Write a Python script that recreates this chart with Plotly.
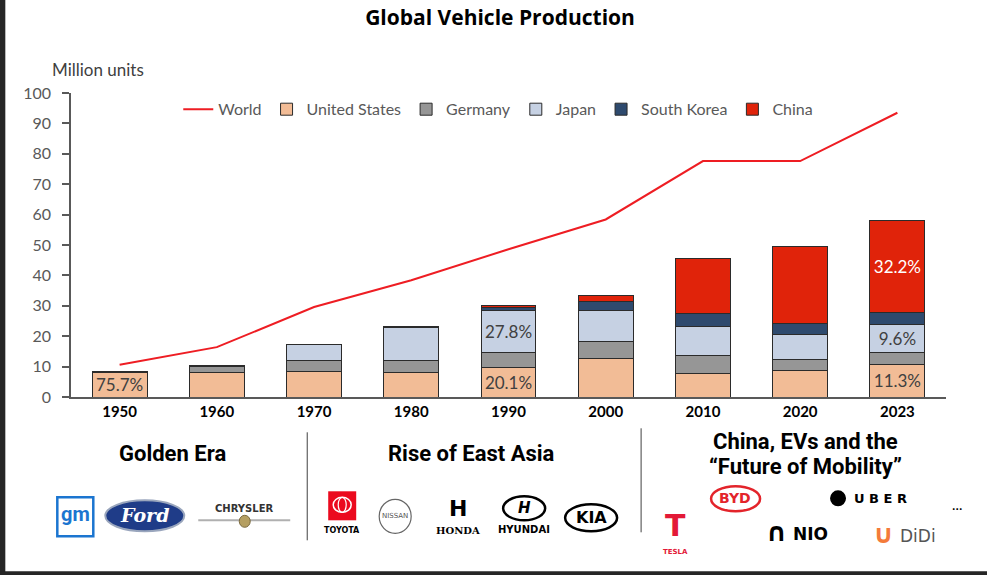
import plotly.graph_objects as go

# data (million units)
years = ['1950', '1960', '1970', '1980', '1990', '2000', '2010', '2020', '2023']
world = [10.6, 16.4, 29.6, 38.4, 48.6, 58.4, 77.6, 77.6, 93.5]
united_states = [8.0, 7.9, 8.3, 8.0, 9.8, 12.8, 7.7, 8.8, 10.6]
germany = [0.3, 2.0, 3.8, 3.9, 5.0, 5.5, 5.9, 3.7, 4.1]
japan = [0.03, 0.5, 5.3, 11.0, 13.5, 10.1, 9.6, 8.1, 9.0]
south_korea = [0.0, 0.0, 0.03, 0.1, 1.3, 3.1, 4.2, 3.5, 4.2]
china = [0.0, 0.0, 0.0, 0.2, 0.5, 2.0, 18.3, 25.5, 30.1]

us_labels = ['75.7%', '', '', '', '20.1%', '', '', '', '11.3%']
japan_labels = ['', '', '', '', '27.8%', '', '', '', '9.6%']
china_labels = ['', '', '', '', '', '', '', '', '32.2%']

# plot area in pixels
W, H = 987, 575
PL, PR, PT, PB = 70.7, 946, 92.7, 396.7


def fx(px):
    return (px - PL) / (PR - PL)


def fy(py):
    return (PB - py) / (PB - PT)


FONT = 'Lato'
GREY = '#595959'
OUTLINE = dict(color='#2b2b2b', width=1)

fig = go.Figure()

fig.add_trace(go.Scatter(
    x=years, y=world, name='World', mode='lines',
    line=dict(color='#EE1D23', width=2),
))

series = [
    ('United States', united_states, '#F2BC96', us_labels, '#404040'),
    ('Germany', germany, '#969696', None, '#404040'),
    ('Japan', japan, '#C6D1E3', japan_labels, '#404040'),
    ('South Korea', south_korea, '#2E4A6E', None, '#404040'),
    ('China', china, '#E0230A', china_labels, 'white'),
]
for name, vals, color, labels, tcolor in series:
    fig.add_trace(go.Bar(
        x=years, y=vals, name=name,
        marker=dict(color=color, line=OUTLINE),
        width=0.565,
        text=labels, textposition='inside' if labels else 'none',
        insidetextanchor='middle', textangle=0,
        constraintext='none',
        textfont=dict(family=FONT, size=17, color=tcolor),
    ))

shapes = []
annotations = []

# frame edges
shapes.append(dict(type='rect', xref='paper', yref='paper',
                   x0=fx(-5), x1=fx(5), y0=fy(-5), y1=fy(580),
                   fillcolor='#262626', line=dict(width=0)))
shapes.append(dict(type='rect', xref='paper', yref='paper',
                   x0=fx(-5), x1=fx(992), y0=fy(571), y1=fy(580),
                   fillcolor='#262626', line=dict(width=0)))

# section dividers
for x, y0, y1 in [(307, 432, 540), (641, 428, 532)]:
    shapes.append(dict(type='line', xref='paper', yref='paper',
                       x0=fx(x), x1=fx(x), y0=fy(y0), y1=fy(y1),
                       line=dict(color='#404040', width=1)))


def note(text, x, y, size=12, color='black', family='Roboto', **kw):
    annotations.append(dict(text=text, x=fx(x), y=fy(y), xref='paper', yref='paper',
                            showarrow=False, xanchor=kw.pop('xanchor', 'center'),
                            yanchor='middle',
                            font=dict(family=family, size=size, color=color), **kw))


def oval(x0, y0, x1, y1, line_color, fill='rgba(0,0,0,0)', lw=2):
    shapes.append(dict(type='circle', xref='paper', yref='paper',
                       x0=fx(x0), x1=fx(x1), y0=fy(y1), y1=fy(y0),
                       fillcolor=fill, line=dict(color=line_color, width=lw)))


def box(x0, y0, x1, y1, line_color, fill='rgba(0,0,0,0)', lw=2):
    shapes.append(dict(type='rect', xref='paper', yref='paper',
                       x0=fx(x0), x1=fx(x1), y0=fy(y1), y1=fy(y0),
                       fillcolor=fill, line=dict(color=line_color, width=lw)))


# section titles
note('<b>Golden Era</b>', 172, 453, size=22)
note('<b>Rise of East Asia</b>', 471, 453, size=22)
note('<b>China, EVs and the</b>', 805, 441, size=22)
note('<b>\u201cFuture of Mobility\u201d</b>', 805, 466, size=22)

# Golden Era brands
box(57, 497, 93, 536, '#1B75D0', lw=2.5)
note('<b>gm</b>', 75, 514, size=20, color='#1B75D0')
oval(105, 500, 184, 531, '#9aa6bd', fill='#1F3C88', lw=2)
note('<b><i>Ford</i></b>', 144, 515, size=19, color='white', family='DejaVu Serif')
note('<b>CHRYSLER</b>', 244, 508, size=10, color='#333333', family='DejaVu Sans')
shapes.append(dict(type='line', xref='paper', yref='paper',
                   x0=fx(198), x1=fx(290), y0=fy(520), y1=fy(520),
                   line=dict(color='#b0b0b0', width=2)))
oval(239, 515, 250, 527, '#7a6a40', fill='#b59f62', lw=1)

# Rise of East Asia brands
box(328, 491, 356, 520, '#EB0A1E', fill='#EB0A1E', lw=0)
oval(333, 497, 351, 512, 'white', lw=1.5)
oval(338, 497, 346, 512, 'white', lw=1.2)
note('<b>TOYOTA</b>', 342, 530, size=8, family='DejaVu Sans')
oval(379, 499, 411, 533, '#666666', lw=1.2)
note('NISSAN', 395, 516, size=7, color='#555555', family='DejaVu Sans')
note('<b>H</b>', 458, 508, size=22, family='DejaVu Sans')
note('<b>HONDA</b>', 458, 530, size=10, family='DejaVu Serif')
oval(503, 496, 545, 520, 'black', lw=2.5)
note('<b><i>H</i></b>', 524, 508, size=15, family='DejaVu Sans')
note('<b>HYUNDAI</b>', 524, 529, size=10, family='DejaVu Sans')
oval(565, 504, 617, 531, 'black', lw=2.5)
note('<b>KIA</b>', 591, 517, size=16, family='DejaVu Sans')

# China / EV brands
note('<b>T</b>', 675, 525, size=30, color='#E31937', family='DejaVu Sans')
note('<b>TESLA</b>', 675, 552, size=7, color='#E31937', family='DejaVu Sans')
oval(711, 486, 760, 511, '#E3242B', lw=2.5)
note('<b>BYD</b>', 735, 498, size=14, color='#E3242B', family='DejaVu Sans')
oval(830, 490, 846, 506, 'black', fill='black', lw=0)
note('<b>U B E R</b>', 880, 498, size=13, family='DejaVu Sans')
note('<b>\u2229</b>', 776, 532, size=26, family='DejaVu Sans')
note('<b>NIO</b>', 810, 534, size=17, family='DejaVu Sans')
note('<b>\u222A</b>', 883, 534, size=26, color='#F47B3A', family='DejaVu Sans')
note('DiDi', 918, 536, size=17, color='#555555', family='DejaVu Sans')
note('<b>...</b>', 957, 506, size=12)

# axis caption
note('Million units', 50, 69, size=17, color='#404040', family=FONT, xanchor='left')

fig.update_layout(
    width=W, height=H,
    margin=dict(l=PL, r=W - PR, t=PT, b=H - PB),
    paper_bgcolor='white', plot_bgcolor='white',
    barmode='stack',
    title=dict(text='<b>Global Vehicle Production</b>', x=500 / W, y=1 - 18 / H,
               xanchor='center', yanchor='middle',
               font=dict(family='Open Sans', size=21, color='black')),
    font=dict(family=FONT, color=GREY),
    legend=dict(orientation='h', x=fx(178), y=fy(109), xanchor='left', yanchor='middle',
                traceorder='normal', font=dict(family=FONT, size=16, color=GREY),
                bgcolor='rgba(0,0,0,0)'),
    shapes=shapes,
    annotations=annotations,
    showlegend=True,
)

fig.update_xaxes(type='category', range=[-0.5, 8.5], showline=True, linecolor=GREY,
                 linewidth=1.5, ticks='', showgrid=False,
                 tickfont=dict(family=FONT, size=15, color='black'),
                 tickprefix='<b>', ticksuffix='</b>')
fig.update_yaxes(range=[0, 100], dtick=10, showline=True, linecolor=GREY, linewidth=1.5,
                 ticks='outside', ticklen=7, tickcolor=GREY, tickwidth=1.5,
                 ticklabelstandoff=8,
                 showgrid=False, zeroline=False,
                 tickfont=dict(family=FONT, size=16, color=GREY))

# the page's default body margin would push the figure 8px right and down
fig.write_html("out.html", config={'displayModeBar': False},
               post_script="document.body.style.margin = '0';")
